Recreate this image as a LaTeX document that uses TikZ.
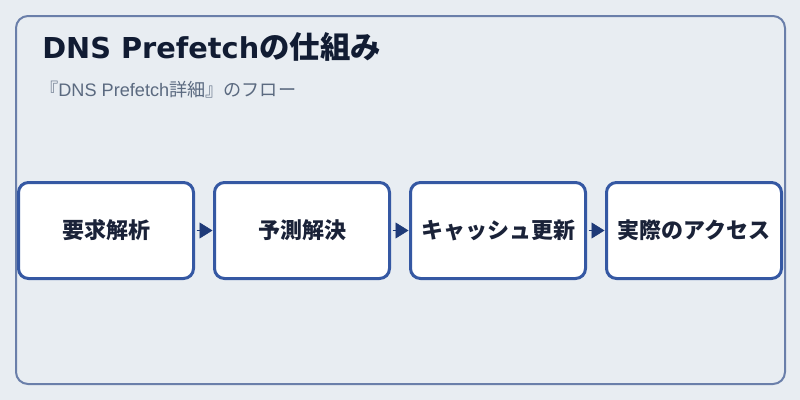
\documentclass[tikz,border=0pt]{standalone}
\usepackage{fontspec}
\setmainfont{Noto Sans CJK JP}
\newfontfamily\cjkfont{Noto Sans CJK JP}
\newfontfamily\latintitle{DejaVu Sans}
\newfontfamily\latinsub{Liberation Sans}
\usetikzlibrary{arrows.meta}
\definecolor{bgc}{HTML}{E8EDF2}
\definecolor{framec}{HTML}{6A7FAA}
\definecolor{boxc}{HTML}{3558A3}
\definecolor{arrowc}{HTML}{1E3A78}
\definecolor{titlec}{HTML}{111C33}
\definecolor{subc}{HTML}{5B6A80}
\definecolor{textc}{HTML}{1A2238}
\tikzset{
  stepbox/.style={draw=boxc, line width=2.25pt, fill=white, rounded corners=7.5pt,
    minimum width=131.25pt, minimum height=72pt, inner sep=0pt, outer sep=0pt,
    text=textc, font=\bfseries\fontsize{16.5pt}{19pt}\selectfont},
  flow/.style={draw=arrowc, fill=arrowc, line width=0.4pt,
    -{Triangle[length=9.75pt,width=12pt]}, shorten >=1.5pt, shorten <=2.25pt},
}
\begin{document}
\begin{tikzpicture}[x=0.75pt,y=-0.75pt]
\useasboundingbox[fill=bgc] (0,0) rectangle (800,400);
\draw[draw=framec, line width=1.5pt, rounded corners=9pt] (16,16) rectangle (785,384);
\node[anchor=base west, text=titlec, inner sep=0pt] (title) at (42,58.5)
  {{\latintitle\bfseries\fontsize{21.6pt}{26pt}\selectfont DNS Prefetch}{\cjkfont\bfseries\fontsize{22.8pt}{26pt}\selectfont の仕組み}};
\node[anchor=base west, text=subc, inner sep=0pt] (sub) at (40,96.5)
  {{\cjkfont\fontsize{13.6pt}{16pt}\selectfont 『}{\latinsub\fontsize{13.6pt}{16pt}\selectfont DNS Prefetch}{\cjkfont\fontsize{13.6pt}{16pt}\selectfont 詳細』のフロー}};
\node[stepbox] (s1) at (106,230.5) {要求解析};
\node[stepbox] (s2) at (302,230.5) {予測解決};
\node[stepbox] (s3) at (498,230.5) {キャッシュ更新};
\node[stepbox] (s4) at (694,230.5) {実際のアクセス};
\draw[flow] (s1.east) -- (s2.west);
\draw[flow] (s2.east) -- (s3.west);
\draw[flow] (s3.east) -- (s4.west);
\end{tikzpicture}
\end{document}
